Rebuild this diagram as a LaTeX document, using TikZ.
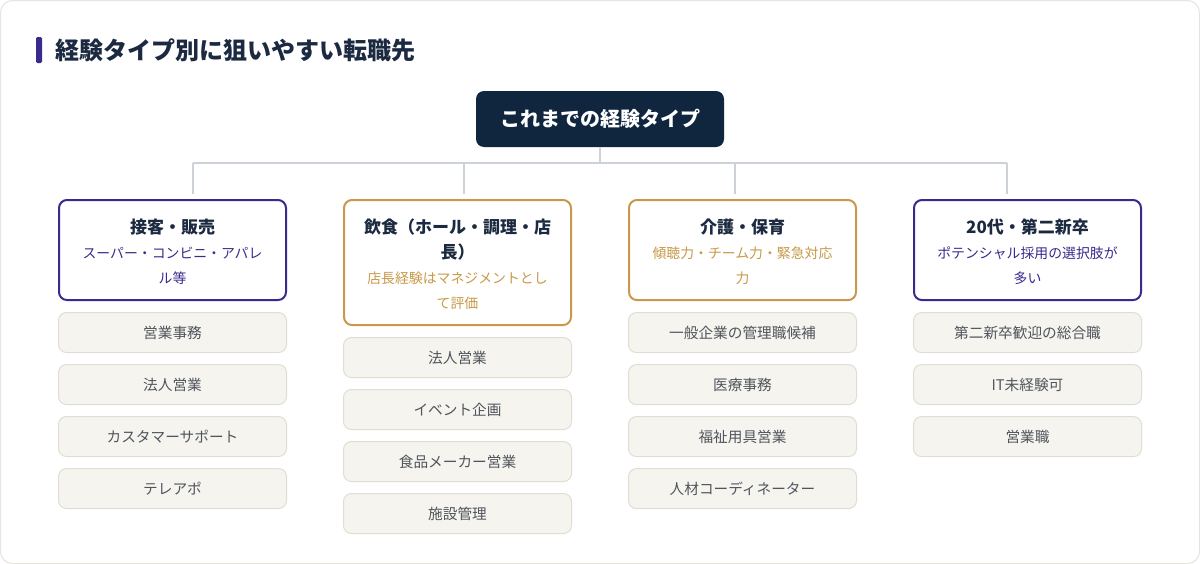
\documentclass[tikz,border=0pt]{standalone}
\usepackage{fontspec}
\setmainfont{Noto Sans CJK JP}
\usetikzlibrary{positioning}
\definecolor{navy}{HTML}{10263F}
\definecolor{inkblue}{HTML}{1B2A40}
\definecolor{accpurple}{HTML}{3B2A8C}
\definecolor{accgold}{HTML}{C8994A}
\definecolor{itemfill}{HTML}{F5F4EF}
\definecolor{itemline}{HTML}{E0DDD4}
\definecolor{itemtext}{HTML}{50555C}
\definecolor{linkgray}{HTML}{CDD2D8}
\definecolor{framegray}{HTML}{E6E4DE}
\newcommand{\cathead}[1]{{\fontsize{12.75pt}{18.75pt}\selectfont\bfseries\color{inkblue}\rule{0pt}{14.2pt}#1}}
\tikzset{
    %Define style for boxes
    heading/.style={
           inner sep=0pt,
           text=inkblue,
           font=\fontsize{18pt}{22pt}\selectfont\bfseries},
 %
    rootbox/.style={
           rectangle,
           rounded corners=6pt,
           fill=navy,
           text=white,
           minimum width=186pt,
           minimum height=42pt,
           font=\fontsize{15pt}{18pt}\selectfont\bfseries},
 %
    catbox/.style={
           rectangle,
           rounded corners=6pt,
           line width=1.5pt,
           fill=white,
           anchor=north,
           text width=150pt,
           inner xsep=0pt,
           inner ysep=11.25pt,
           minimum width=170.25pt,
           align=center,
           font=\fontsize{10.4pt}{18.75pt}\selectfont},
 %
    itembox/.style={
           rectangle,
           rounded corners=6pt,
           draw=itemline, line width=0.75pt,
           fill=itemfill,
           text=itemtext,
           minimum width=171pt,
           minimum height=30pt,
           font=\fontsize{11pt}{13pt}\selectfont},
%
    % Define line style
    link/.style={
           draw=linkgray,
           line width=1.5pt}
}
\begin{document}
\begin{tikzpicture}[x=0.75pt, y=-0.75pt, node distance=8.25pt]
  \useasboundingbox (0,0) rectangle (1200,564);
  \draw[framegray, line width=0.75pt, fill=white, rounded corners=9pt] (0.5,0.5) rectangle (1199.5,563.5);
  % title
  \fill[accpurple, rounded corners=1pt] (36,37) rectangle (42,63);
  \node[heading, anchor=west] (heading) at (55,50) {経験タイプ別に狙いやすい転職先};
  \node[rootbox] (root) at (600,119) {これまでの経験タイプ};
  % tree
  \coordinate (hub) at (600,163);
  \coordinate (j1) at (193,163);
  \coordinate (j2) at (464,163);
  \coordinate (j3) at (735,163);
  \coordinate (j4) at (1007,163);
  \coordinate (t1) at (193,194);
  \coordinate (t2) at (464,194);
  \coordinate (t3) at (735,194);
  \coordinate (t4) at (1007,194);
  \path[link]
    (root.south) -- (hub)
    (j1) -- (j4)
    (j1) -- (t1)
    (j2) -- (t2)
    (j3) -- (t3)
    (j4) -- (t4);
  % categories
  \node[catbox, draw=accpurple, text=accpurple] (sales) at (172.5,199) {\cathead{接客・販売}\\スーパー・コンビニ・アパレ\\ル等};
  \node[catbox, draw=accgold, text=accgold] (food) at (457.5,199) {\cathead{飲食（ホール・調理・店\\長）}\\店長経験はマネジメントとし\\て評価};
  \node[catbox, draw=accgold, text=accgold] (care) at (742.5,199) {\cathead{介護・保育}\\傾聴力・チーム力・緊急対応\\力};
  \node[catbox, draw=accpurple, text=accpurple] (young) at (1027.5,199) {\cathead{20代・第二新卒}\\ポテンシャル採用の選択肢が\\多い};
  % jobs
  \node[itembox, below=of sales] (sales1) {営業事務};
  \node[itembox, below=of sales1] (sales2) {法人営業};
  \node[itembox, below=of sales2] (sales3) {カスタマーサポート};
  \node[itembox, below=of sales3] (sales4) {テレアポ};
  \node[itembox, below=of food] (food1) {法人営業};
  \node[itembox, below=of food1] (food2) {イベント企画};
  \node[itembox, below=of food2] (food3) {食品メーカー営業};
  \node[itembox, below=of food3] (food4) {施設管理};
  \node[itembox, below=of care] (care1) {一般企業の管理職候補};
  \node[itembox, below=of care1] (care2) {医療事務};
  \node[itembox, below=of care2] (care3) {福祉用具営業};
  \node[itembox, below=of care3] (care4) {人材コーディネーター};
  \node[itembox, below=of young] (young1) {第二新卒歓迎の総合職};
  \node[itembox, below=of young1] (young2) {IT未経験可};
  \node[itembox, below=of young2] (young3) {営業職};
\end{tikzpicture}
\end{document}
